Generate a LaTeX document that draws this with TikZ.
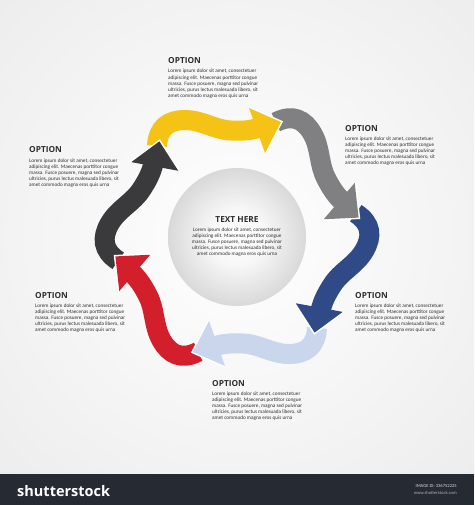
\documentclass[tikz,border=0pt]{standalone}
\usepackage{fontspec}
\setmainfont{Carlito}
\newfontfamily\optfont{Open Sans}
\definecolor{cYellow}{HTML}{F5C316}
\definecolor{cGray}{HTML}{808082}
\definecolor{cBlue}{HTML}{2F4A86}
\definecolor{cLight}{HTML}{C9D6EC}
\definecolor{cRed}{HTML}{D21F2B}
\definecolor{cDark}{HTML}{3A3A3D}
\definecolor{cBar}{HTML}{262A33}
\definecolor{cText}{HTML}{2E2E2E}
\pgfdeclareradialshading{discshade}{\pgfpoint{0bp}{0bp}}{color(0bp)=(white); color(10bp)=(white!97!black); color(25bp)=(black!15); color(50bp)=(black!15)}
\pgfdeclareradialshading{bgshade}{\pgfpoint{0bp}{0bp}}{color(0bp)=(white); color(25bp)=(black!5); color(50bp)=(black!10)}
\newcommand\bodypath{(157,146) .. controls (158,127) and (169,120) .. (185,120) .. controls (202,120) and (215,130) .. (231,130.5) .. controls (241,131) and (250,130.7) .. (259,127.8)}
\newcommand\textblock[3]{%
  \node[opttitle] (#1) at (#2,#3) {OPTION};
  \foreach \t [count=\k] in {{Lorem ipsum dolor sit amet, consectetuer},{adipiscing elit. Maecenas porttitor congue},{massa. Fusce posuere, magna sed pulvinar},{ultricies, purus lectus malesuada libero, sit},{amet commodo magna eros quis urna}}
    \node[bodytext] (#1-\k) at (#2,{#3+9+(\k-1)*6.1}) {\t};
}
\begin{document}
\begin{tikzpicture}[x=1pt,y=-1pt,
  opttitle/.style={anchor=base west, inner sep=0pt, text=cText, font=\optfont\bfseries\fontsize{8.3}{9}\selectfont},
  bodytext/.style={anchor=base west, inner sep=0pt, text=cText, font=\fontsize{5.2}{5.8}\selectfont},
  centertext/.style={anchor=base, inner sep=0pt, text=cText, font=\fontsize{5.2}{5.8}\selectfont},
  armbody/.style={line width=20pt, line cap=butt},
  headrim/.style={white, line width=3pt, line join=miter}]
\useasboundingbox (0,0) rectangle (474,505);
\shade[shading=bgshade] (0,0) rectangle (474,474);
% central disc
\shade[shading=discshade] (237,237) circle[radius=69pt];
% arrow bodies
\foreach \c [count=\i from 0] in {cYellow,cGray,cBlue,cLight,cRed,cDark}{
  \begin{scope}[rotate around={-60*\i:(237,237)}]
    \draw[armbody, \c] \bodypath;
  \end{scope}
}
% arrow heads
\foreach \c [count=\i from 0] in {cYellow,cGray,cBlue,cLight,cRed,cDark}{
  \begin{scope}[rotate around={-60*\i:(237,237)}]
    \draw[headrim] (249,108) -- (281,122) -- (265,153);
    \fill[\c] (249,108) -- (281,122) -- (265,153) -- cycle;
  \end{scope}
}
% text blocks
\textblock{top}{168}{64}
\textblock{tr}{345}{131.5}
\textblock{tl}{29}{153}
\textblock{br}{355}{298}
\textblock{bl}{35}{298}
\textblock{bot}{212}{386}
\node[opttitle, anchor=base] (ctitle) at (237,222.7) {TEXT HERE};
\foreach \t [count=\k] in {{Lorem ipsum dolor sit amet, consectetuer},{adipiscing elit. Maecenas porttitor congue},{massa. Fusce posuere, magna sed pulvinar},{ultricies, purus lectus malesuada libero, sit},{amet commodo magna eros quis urna}}
  \node[centertext] (ctr-\k) at (237,{222.7+9+(\k-1)*5.9}) {\t};
% bottom bar
\fill[cBar] (0,474) rectangle (474,505);
\node[anchor=base west, inner sep=0pt, text=white, font=\optfont\bfseries\fontsize{14.5}{15}\selectfont] (logo) at (17,496) {shutterstock};
\node[anchor=base east, inner sep=0pt, text=white!85!black, font=\fontsize{4.6}{5}\selectfont] (imgid) at (457,487.5) {IMAGE ID: 336752225};
\node[anchor=base east, inner sep=0pt, text=white!70!black, font=\fontsize{4.6}{5}\selectfont] (www) at (457,494.5) {www.shutterstock.com};
\end{tikzpicture}
\end{document}
